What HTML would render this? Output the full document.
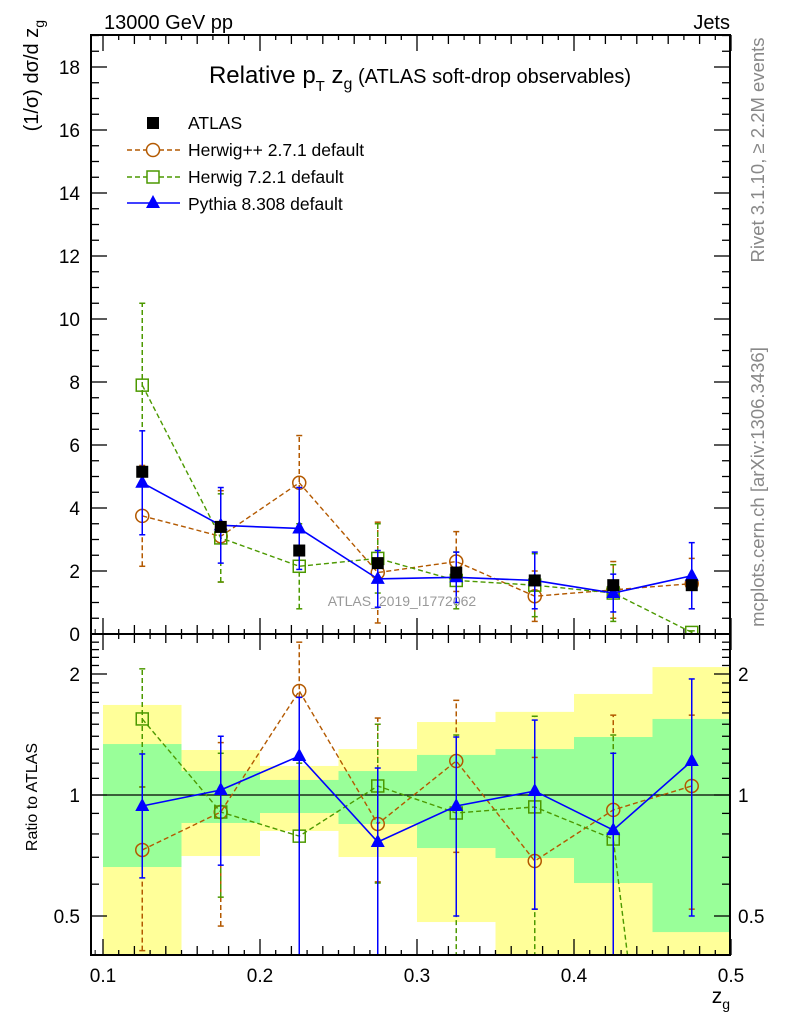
<!DOCTYPE html>
<html><head><meta charset="utf-8"><style>
html,body{margin:0;background:#fff;overflow:hidden;width:786px;height:1024px;}
svg{display:block;font-family:"Liberation Sans",sans-serif;}
</style></head><body>
<div style="position:relative;width:786px;height:1024px;overflow:hidden">
<svg id="c" width="786" height="1024" viewBox="0 0 786 1024" xmlns="http://www.w3.org/2000/svg" style="position:absolute;left:0;top:0"></svg>
<svg width="786" height="1024" style="position:absolute;left:0;top:0;font-family:'Liberation Sans',sans-serif">
<text x="104" y="29" font-size="20">13000 GeV pp</text>
<text x="730" y="29" font-size="20" text-anchor="end">Jets</text>
<text x="420" y="83" font-size="24" text-anchor="middle">Relative p<tspan font-size="15" dy="8">T</tspan><tspan dy="-8"> z</tspan><tspan font-size="16" dy="6">g</tspan><tspan dy="-6" font-size="20"> (ATLAS soft-drop observables)</tspan></text>
<text transform="translate(38,20) rotate(-90)" font-size="20" text-anchor="end">(1/σ) dσ/d z<tspan font-size="14" dy="6">g</tspan></text>
<text transform="translate(37,797) rotate(-90)" font-size="16" text-anchor="middle">Ratio to ATLAS</text>
<text x="730" y="1003" font-size="21" text-anchor="end">z<tspan font-size="14" dy="6">g</tspan></text>
<text transform="translate(764,150) rotate(-90)" font-size="18.5" fill="#888" text-anchor="middle">Rivet 3.1.10, ≥ 2.2M events</text>
<text transform="translate(764,487) rotate(-90)" font-size="18.5" fill="#888" text-anchor="middle">mcplots.cern.ch [arXiv:1306.3436]</text>
<text x="402" y="606" font-size="14" fill="#999" text-anchor="middle">ATLAS_2019_I1772062</text>
<g font-size="17.5">
 <g><rect x="147" y="117" width="12" height="12" fill="#000"/><text x="188" y="129">ATLAS</text></g>
 <g><line x1="127" x2="180" y1="150" y2="150" stroke="#b35900" stroke-width="1.4" stroke-dasharray="5,3"/><circle cx="153" cy="150" r="6.5" fill="#fff" stroke="#b35900" stroke-width="1.5"/><text x="188" y="156">Herwig++ 2.7.1 default</text></g>
 <g><line x1="127" x2="180" y1="177" y2="177" stroke="#4c9900" stroke-width="1.4" stroke-dasharray="5,3"/><rect x="147" y="171" width="12" height="12" fill="#fff" stroke="#4c9900" stroke-width="1.5"/><text x="188" y="183">Herwig 7.2.1 default</text></g>
 <g><line x1="127" x2="180" y1="203" y2="203" stroke="#0000ff" stroke-width="1.6"/><polygon points="153,195 146,208 160,208" fill="#0000ff"/><text x="188" y="210">Pythia 8.308 default</text></g>
</g>
</svg>
</div>
<script>
const binCenters=[0.125,0.175,0.225,0.275,0.325,0.375,0.425,0.475];
const binEdges=[0.1,0.15,0.2,0.25,0.3,0.35,0.4,0.45,0.5];
const atlasVals=[5.15,3.4,2.65,2.25,1.95,1.7,1.55,1.55];
const hppVals=[3.75,3.1,4.8,1.95,2.3,1.2,1.4,1.6];
const hppErr=[1.6,1.45,1.5,1.6,0.95,0.8,0.9,0.8];
const h7Vals=[7.9,3.05,2.15,2.4,1.7,1.55,1.3,0.05];
const h7Err=[2.6,1.4,1.35,1.1,0.9,1.0,0.9,0.05];
const pyVals=[4.8,3.45,3.35,1.75,1.8,1.7,1.3,1.85];
const pyErr=[1.65,1.2,1.3,0.9,0.8,0.9,0.6,1.05];
const yTicks=[0,2,4,6,8,10,12,14,16,18];
const xTicks=[0.1,0.2,0.3,0.4,0.5];
const rTicks=[0.5,1,2];
const yelLo=[0.3,0.705,0.814,0.701,0.483,0.3,0.3,0.3];
const yelHi=[1.675,1.294,1.181,1.301,1.519,1.61,1.784,2.081];
const grnLo=[0.662,0.852,0.902,0.847,0.738,0.697,0.604,0.456];
const grnHi=[1.339,1.147,1.09,1.147,1.258,1.301,1.394,1.546];
const rPy=[0.939,1.029,1.25,0.764,0.939,1.023,0.818,1.215];
const rPyLo=[0.622,0.669,0.3,0.3,0.5,0.52,0.3,0.5];
const rPyHi=[1.265,1.40,1.75,1.167,1.394,1.536,1.27,1.944];
const rHpp=[0.73,0.907,1.815,0.847,1.215,0.685,0.918,1.053];
const rHppLo=[0.41,0.472,1.75,0.608,0.72,0.52,0.3,0.52];
const rHppHi=[1.047,1.35,2.4,1.554,1.72,1.24,1.58,1.58];
const rH7=[1.546,0.907,0.79,1.053,0.902,0.934,0.777,0.02];
const rH7Lo=[1.047,0.557,0.3,0.604,0.3,0.3,0.3,0.01];
const rH7Hi=[2.06,1.27,1.2,1.5,1.41,1.57,1.41,0.03];

const S=document.getElementById('c');const NS='http://www.w3.org/2000/svg';
const L=91,R=730,T=35,MB=634,RB=955;
const X=v=>103+(v-0.1)*1570;
const Y=v=>MB-v*31.5;
const RY=v=>795-121*Math.log2(v);
function el(t,a,p){const e=document.createElementNS(NS,t);for(const k in a)e.setAttribute(k,a[k]);(p||S).appendChild(e);return e;}
function txt(s,x,y,a){const e=el('text',Object.assign({x:x,y:y},a));e.textContent=s;return e;}
const clipM=el('clipPath',{id:'cm'});el('rect',{x:L,y:T,width:R-L,height:MB-T},clipM);
const clipR=el('clipPath',{id:'cr'});el('rect',{x:L,y:MB,width:R-L,height:RB-MB},clipR);
const gM=el('g',{'clip-path':'url(#cm)'});


const gR=el('g',{'clip-path':'url(#cr)'});


for(let i=0;i<8;i++){
 const x0=X(binEdges[i]),x1=X(binEdges[i+1]);
 const b=el('rect',{x:x0,y:RY(yelHi[i]),width:x1-x0,height:RY(yelLo[i])-RY(yelHi[i]),fill:'#ffff99'},gR);
 
 
 const g=el('rect',{x:x0,y:RY(grnHi[i]),width:x1-x0,height:RY(grnLo[i])-RY(grnHi[i]),fill:'#99ff99'},gR);
 
 
}
el('line',{x1:L,x2:R,y1:RY(1),y2:RY(1),stroke:'#000','stroke-width':1.3},gR);
function marker(type,x,y,col,g){
 if(type==='sq'){return el('rect',{x:x-6,y:y-6,width:12,height:12,fill:'#000'},g);}
 if(type==='osq'){return el('rect',{x:x-6,y:y-6,width:12,height:12,fill:'none',stroke:col,'stroke-width':1.5},g);}
 if(type==='circ'){return el('circle',{cx:x,cy:y,r:6.5,fill:'none',stroke:col,'stroke-width':1.5},g);}
 return el('polygon',{points:`${x},${y-8} ${x-7},${y+5} ${x+7},${y+5}`,fill:col},g);
}
function series(name,vals,lo,hi,yf,col,dash,type,g,w){
 const sg=el('g',{},g);
 
 
 const pts=vals.map((v,i)=>X(binCenters[i])+','+yf(v)).join(' ');
 el('polyline',{points:pts,fill:'none',stroke:col,'stroke-width':w,'stroke-dasharray':dash||'none'},sg);
 vals.forEach((v,i)=>{const x=X(binCenters[i]);
  el('line',{x1:x,x2:x,y1:yf(lo[i]),y2:yf(hi[i]),stroke:col,'stroke-width':1.5,'stroke-dasharray':dash||'none'},sg);
  el('line',{x1:x-3,x2:x+3,y1:yf(lo[i]),y2:yf(lo[i]),stroke:col,'stroke-width':1.5},sg);
  el('line',{x1:x-3,x2:x+3,y1:yf(hi[i]),y2:yf(hi[i]),stroke:col,'stroke-width':1.5},sg);
  const m=marker(type,x,yf(v),col,sg);
  
  });
}
const lo=(v,e)=>v.map((a,i)=>Math.max(a-e[i],0.001)),hi=(v,e)=>v.map((a,i)=>a+e[i]);
series('herwigpp-series',hppVals,lo(hppVals,hppErr),hi(hppVals,hppErr),Y,'#b35900','5,3','circ',gM,1.4);
series('herwig7-series',h7Vals,lo(h7Vals,h7Err),hi(h7Vals,h7Err),Y,'#4c9900','5,3','osq',gM,1.4);
series('pythia-series',pyVals,lo(pyVals,pyErr),hi(pyVals,pyErr),Y,'#0000ff',null,'tri',gM,1.6);
const ag=el('g',{},gM);


atlasVals.forEach((v,i)=>{const m=marker('sq',X(binCenters[i]),Y(v),'#000',ag);
 
 });
series('herwigpp-ratio',rHpp,rHppLo,rHppHi,RY,'#b35900','5,3','circ',gR,1.4);
series('herwig7-ratio',rH7,rH7Lo,rH7Hi,RY,'#4c9900','5,3','osq',gR,1.4);
series('pythia-ratio',rPy,rPyLo,rPyHi,RY,'#0000ff',null,'tri',gR,1.6);
el('rect',{x:L,y:T,width:R-L,height:MB-T,fill:'none',stroke:'#000','stroke-width':2});
el('rect',{x:L,y:MB,width:R-L,height:RB-MB,fill:'none',stroke:'#000','stroke-width':2});
for(let k=0;k<=40;k++){const v=0.1+k*0.01;const x=X(v);
 const len=k%10===0?16:(k%2===0?9:5);
 for(const [yb,yt] of [[MB,T],[RB,MB]]){el('line',{x1:x,x2:x,y1:yb,y2:yb-len,stroke:'#000','stroke-width':1.3});el('line',{x1:x,x2:x,y1:yt,y2:yt+len,stroke:'#000','stroke-width':1.3});}}
el('line',{x1:X(0.095),x2:X(0.095),y1:MB,y2:MB-5,stroke:'#000'});el('line',{x1:X(0.095),x2:X(0.095),y1:RB,y2:RB-5,stroke:'#000'});
xTicks.forEach(v=>{const t=txt(v.toFixed(1),X(v),982,{'font-size':19,'text-anchor':'middle'});
 
 });
for(let v=0;v<=19;v+=0.5){const y=Y(v);const len=(v%2===0)?16:8;
 el('line',{x1:L,x2:L+len,y1:y,y2:y,stroke:'#000','stroke-width':1.3});el('line',{x1:R,x2:R-len,y1:y,y2:y,stroke:'#000','stroke-width':1.3});}
yTicks.forEach(v=>{const t=txt(String(v),80,Y(v)+7,{'font-size':19,'text-anchor':'end'});
 
 });
const rm=[0.4,0.6,0.7,0.8,0.9,1.1,1.2,1.3,1.4,1.5,1.6,1.7,1.8,1.9,2.1,2.2,2.3,2.4];
rm.forEach(v=>{const y=RY(v);el('line',{x1:L,x2:L+8,y1:y,y2:y,stroke:'#000','stroke-width':1.3});el('line',{x1:R,x2:R-8,y1:y,y2:y,stroke:'#000','stroke-width':1.3});});
rTicks.forEach(v=>{const y=RY(v);el('line',{x1:L,x2:L+16,y1:y,y2:y,stroke:'#000','stroke-width':1.3});el('line',{x1:R,x2:R-16,y1:y,y2:y,stroke:'#000','stroke-width':1.3});
 const a=txt(String(v),80,y+7,{'font-size':19,'text-anchor':'end'});
 
 
 const b=txt(String(v),738,y+7,{'font-size':19});
 
 });
</script>
</body></html>
